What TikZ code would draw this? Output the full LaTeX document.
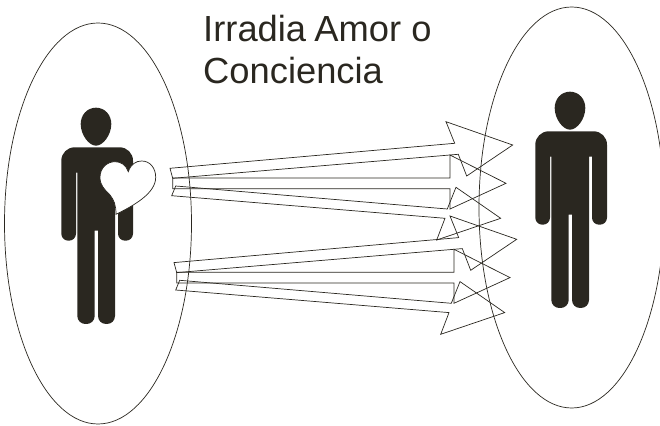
\documentclass[tikz,border=0pt]{standalone}
\usepackage{fontspec}
\setmainfont{Liberation Sans}

\definecolor{figura}{HTML}{2A2720}
\tikzset{
  linea/.style={draw=figura, line width=0.6pt},
  flecha/.style={linea, line join=miter},
}
% the figure, drawn at the place of the left one
\newcommand{\persona}{
  \fill[figura] (96,107.7) .. controls (105,107.7) and (111.3,115) .. (111.3,124)
    .. controls (111.3,135) and (103,145.7) .. (96,145.7)
    .. controls (89,145.7) and (80.7,135) .. (80.7,124)
    .. controls (80.7,115) and (87,107.7) .. (96,107.7) -- cycle;
  \fill[figura,rounded corners=4mm] (61.3,175) -- (61.3,147.3) -- (133,147.3) -- (133,175)
    [rounded corners=2.1mm] -- (133,240.7) -- (118,240.7) [sharp corners] -- (118,172.7) -- (115,172.7)
    [rounded corners=2.4mm] -- (115,324) -- (98,324) [sharp corners] -- (98,230.7) -- (94.7,230.7)
    [rounded corners=2.4mm] -- (94.7,324) -- (77.3,324) [sharp corners] -- (77.3,172.7) -- (76,172.7)
    [rounded corners=2.1mm] -- (76,240.7) -- (61.3,240.7) [sharp corners] -- cycle;
}
% three arrows of one group
\newcommand{\flechas}{
  \draw[flecha] (170,168.3) -- (454.7,143.3) -- (446,121.7) -- (512.7,145) -- (466.7,176) -- (458.3,154.3) -- (172.7,178.3) -- cycle;
  \draw[flecha] (172.7,178) -- (450,178) -- (450,155) -- (506,183.3) -- (450,209) -- (450,188.7) -- (172.7,188.7) -- cycle;
  \draw[flecha] (175.7,186) -- (447.3,209) -- (456,187.3) -- (500.7,218.3) -- (436.7,240) -- (445,218.3) -- (171.7,195.7) -- cycle;
}

\begin{document}
\begin{tikzpicture}[x=0.03cm,y=-0.03cm]
\useasboundingbox (0,0) rectangle (660,426);

\begin{scope}
\clip (0,0) rectangle (660,426);
\draw[linea] (98,223.5) ellipse [x radius=93.5, y radius=200.5];
\draw[linea] (571.7,207.5) ellipse [x radius=92.7, y radius=200.5];
\end{scope}

\persona
\begin{scope}[shift={(474,-16)}]
  \persona
\end{scope}

% heart
\draw[linea,fill=white] (128.3,171.7) .. controls (131,164) and (136,161) .. (141.7,161)
  .. controls (150,161) and (155.7,168) .. (155.7,177.3)
  .. controls (155.7,193) and (135,205) .. (116,214.3)
  .. controls (116,205) and (114,200) .. (110,195)
  .. controls (104,189) and (100,185) .. (100,177.3)
  .. controls (100,168) and (107,161.7) .. (115,161.7)
  .. controls (121,161.7) and (126,165) .. (128.3,171.7) -- cycle;

\flechas
\begin{scope}[shift={(4,94.3)}]
  \flechas
\end{scope}

\node[anchor=north west,inner sep=0pt,align=left,text=figura,font=\fontsize{31}{35.4}\selectfont] (titulo) at (203,15) {Irradia\kern-1.5pt{} Amor o\\Conciencia};

\end{tikzpicture}
\end{document}
